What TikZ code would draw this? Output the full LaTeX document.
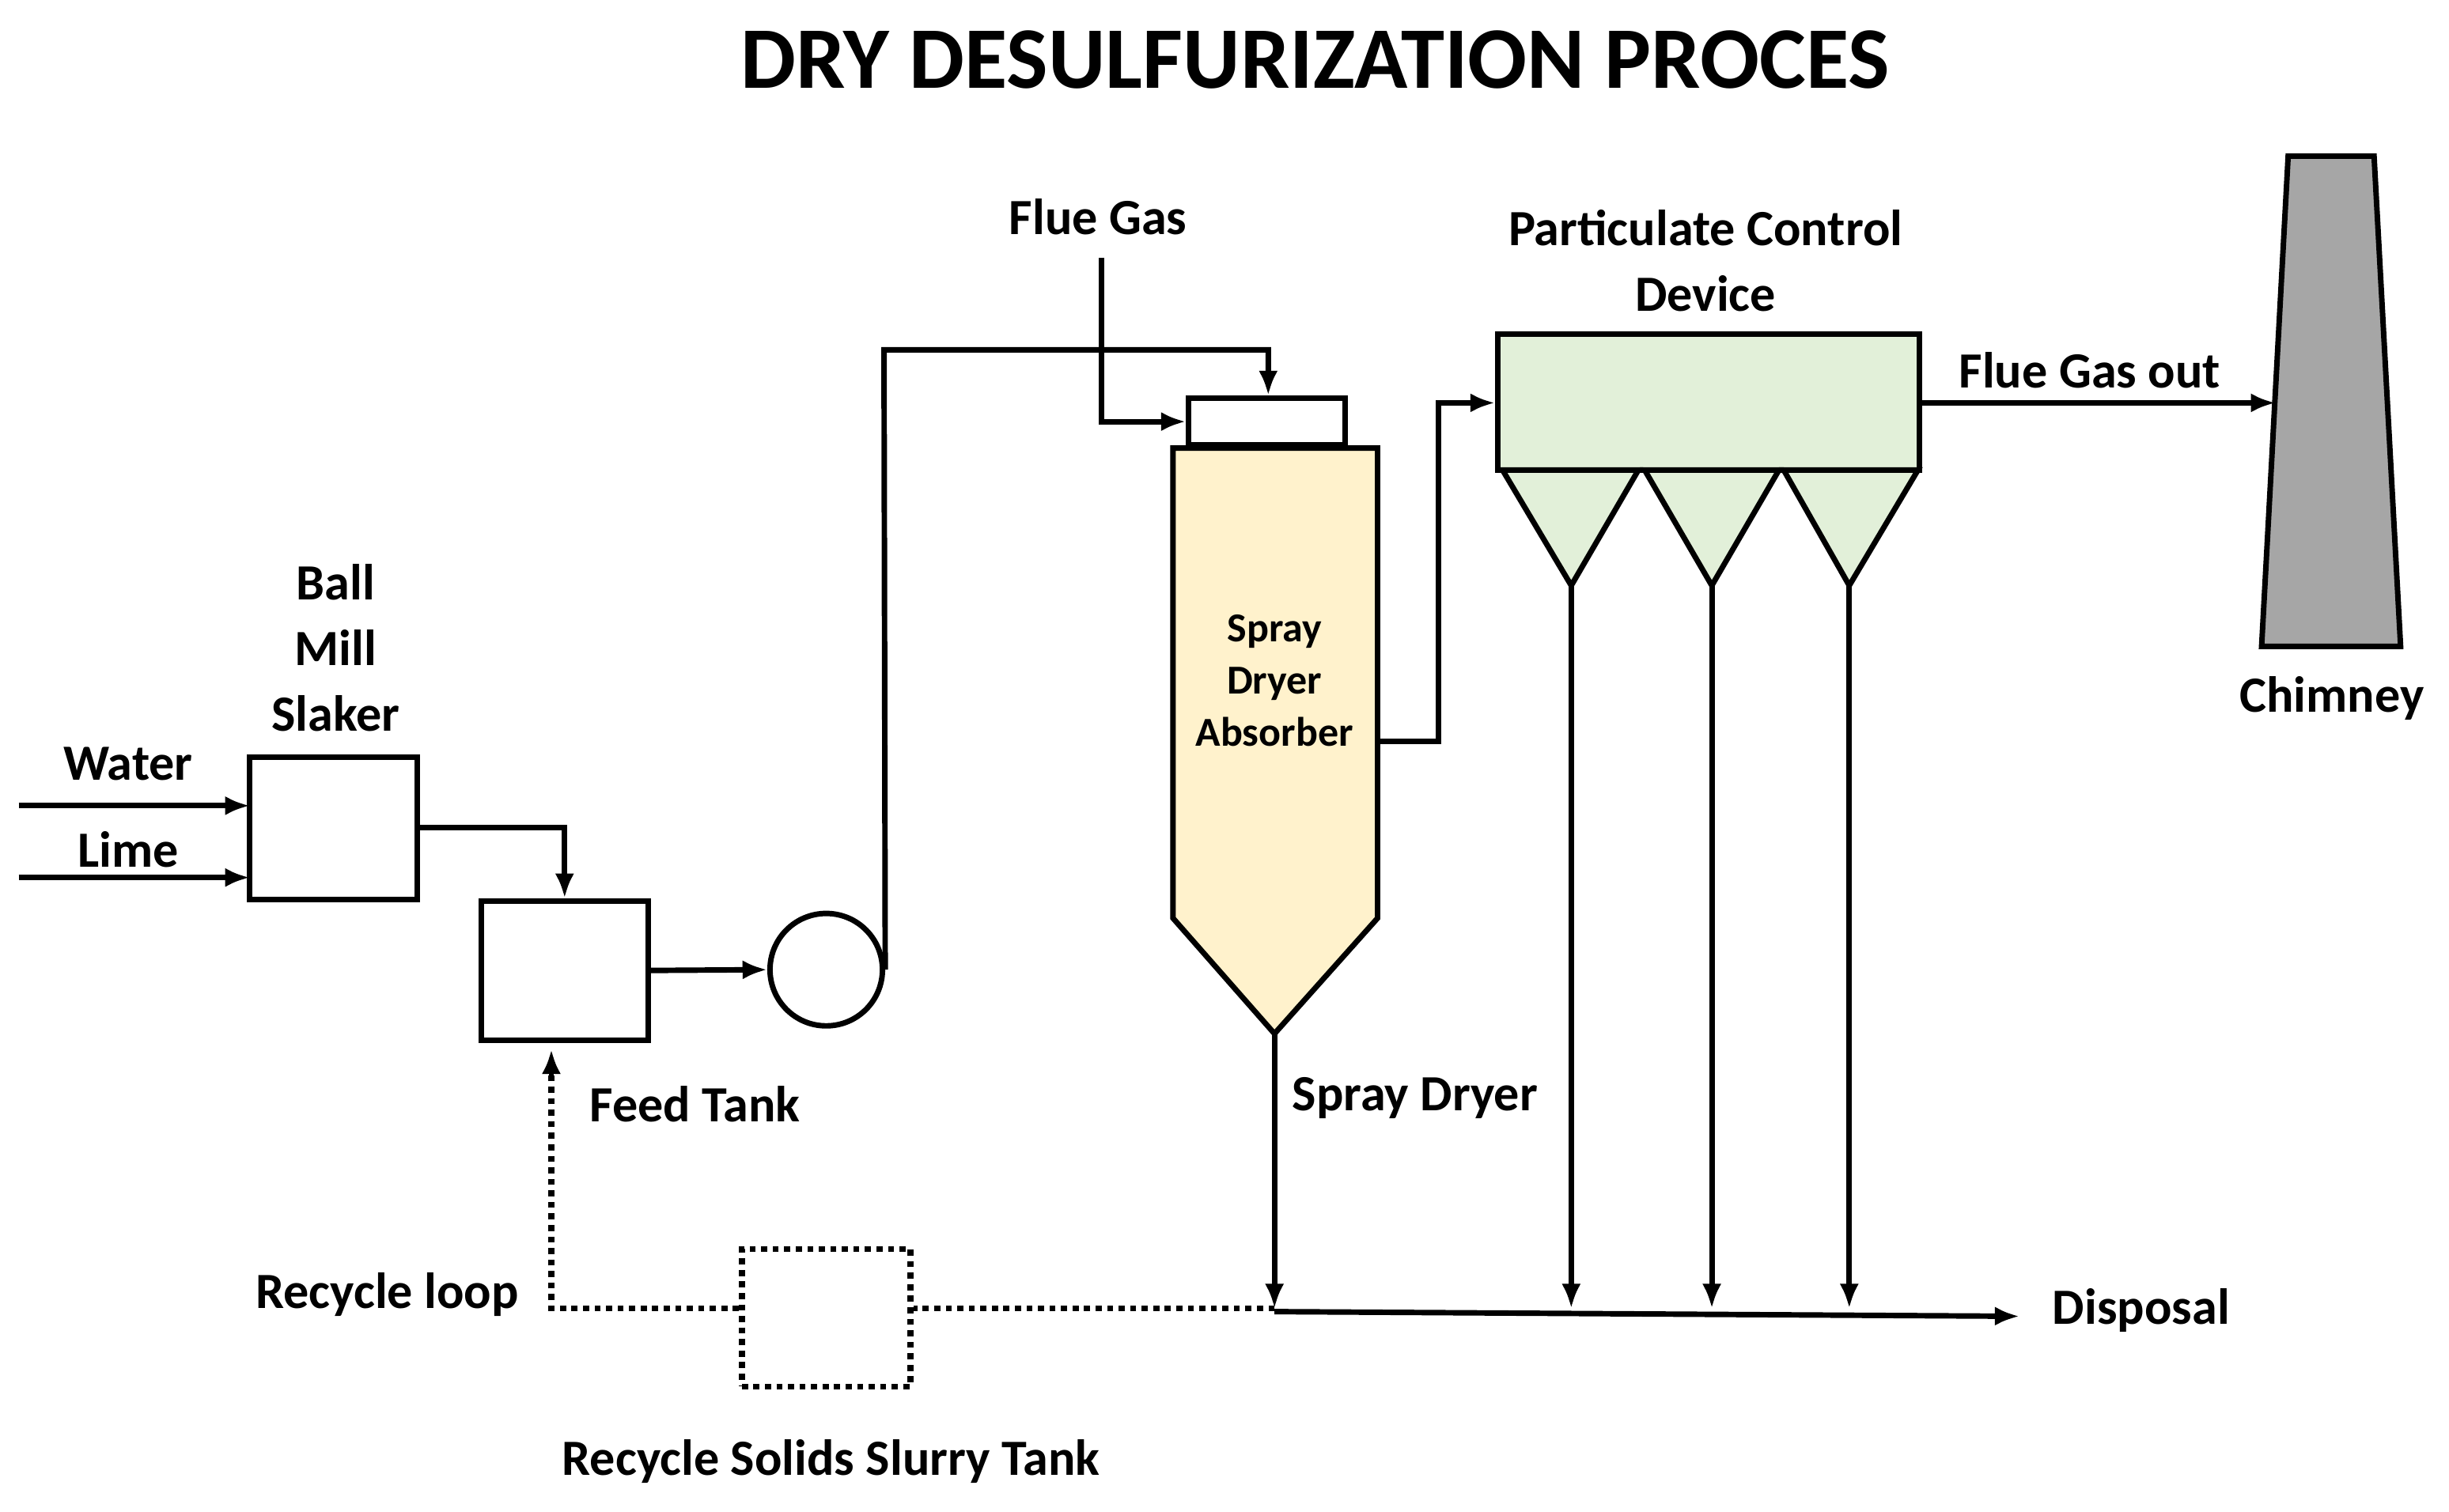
\documentclass[tikz,border=0pt]{standalone}
\usepackage{fontspec}
\setmainfont{Carlito}
\usetikzlibrary{arrows.meta}
\begin{document}
\begin{tikzpicture}[x=0.02cm,y=-0.02cm,
 ln/.style={line width=2pt},
 ar/.style={ln,-{Latex[length=9pt,width=7pt]}},
 dt/.style={line width=2.2pt,dotted},
 lbl/.style={font=\fontsize{18.5}{22}\selectfont\bfseries,align=center},
 box/.style={draw,line width=2pt}]
\useasboundingbox (0,0) rectangle (1568,968);
\node[font=\fontsize{32}{36}\selectfont\bfseries] (title) at (842,38) {DRY DESULFURIZATION PROCES};
% inputs
\node[lbl] (water) at (82,489) {Water};
\node[lbl] (lime) at (82,544) {Lime};
\node[box,minimum width=107*0.02cm,minimum height=91*0.02cm] (mill) at (213.5,530.5) {};
\node[lbl,font=\fontsize{18.5}{24}\selectfont\bfseries] (milll) at (215,415) {Ball\\Mill\\Slaker};
\coordinate (w0) at (12,516); \coordinate (l0) at (12,562);
\draw[ar] (w0) -- (160,516);
\draw[ar] (l0) -- (160,562);
\node[box,minimum width=107*0.02cm,minimum height=89*0.02cm] (feed) at (361.5,621.5) {};
\node[lbl] (feedl) at (445,707) {Feed Tank};
\draw[ar] (267,530) -| (feed.north);
\node[draw,line width=2pt,circle,minimum size=72*0.02cm,inner sep=0] (pump) at (529,621) {};
\draw[ar] (feed.east) -- (pump.west);
% spray dryer
\node[box,minimum width=100*0.02cm,minimum height=30*0.02cm] (top) at (811,270) {};
\draw[ln,fill={rgb,255:red,255;green,242;blue,204}] (751,287) -- (882,287) -- (882,588) -- (816,662) -- (751,588) -- cycle;
\coordinate (tip) at (816,662);
\node[font=\fontsize{15}{19}\selectfont\bfseries,align=center] (sdl) at (816,436) {Spray\\Dryer\\Absorber};
\draw[ar] (pump.east) -- (566,224) -- (812,224) -- (top.north-|812,0);
\node[lbl] (flue) at (703,139) {Flue Gas};
\draw[ar] (705,165) |- (top.west);
% PCD
\node[draw,line width=2pt,fill={rgb,255:red,226;green,240;blue,217},minimum width=270*0.02cm,minimum height=87*0.02cm] (pcd) at (1094,257.5) {};
\node[lbl,align=center,font=\fontsize{18.5}{24}\selectfont\bfseries] (pcdl) at (1092,167) {Particulate Control\\Device};
\draw[ar] (882,475) -- (921,475) -- (921,258) -- (pcd.west|-0,258);
\foreach \a/\b/\c in {962/1049/1006,1053/1139/1096,1142/1228/1184}{
 \draw[ln,fill={rgb,255:red,226;green,240;blue,217}] (\a,301) -- (\b,301) -- (\c,375) -- cycle;
 \draw[ar] (\c,375) -- (\c,838);}
% chimney
\draw[ln,fill={rgb,255:red,166;green,166;blue,166}] (1465,100) -- (1520,100) -- (1537,414) -- (1448,414) -- cycle;
\node[lbl] (chim) at (1493,447) {Chimney};
\coordinate (chin) at (1457,258);
\draw[ar] (1229,258) -- (chin);
\node[lbl] (fgo) at (1338,237) {Flue Gas out};
% bottom
\draw[ar] (tip) -- (816,838);
\node[lbl] (sdry) at (906,703) {Spray Dryer};
\coordinate (disp) at (1293,843);
\draw[ar] (816,840) -- (disp);
\node[lbl,anchor=west] (displ) at (1308,839) {Disposal};
\node[draw,dt,minimum width=108*0.02cm,minimum height=88*0.02cm] (rec) at (529,844) {};
\draw[dt] (816,838) -- (rec.east|-0,838);
\draw[dt] (rec.west|-0,838) -- (353,838) -- (353,685);
\draw[ar] (353,690) -- (353,672);
\node[lbl] (recl) at (248,829) {Recycle loop};
\node[lbl] (recs) at (532,936) {Recycle Solids Slurry Tank};
\end{tikzpicture}
\end{document}
